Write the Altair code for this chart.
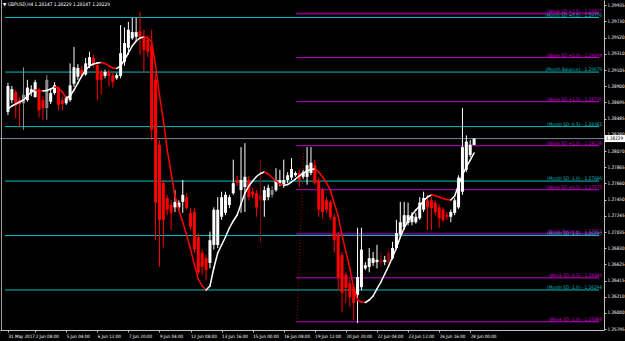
import json
import altair as alt
import pandas as pd

FONT = "Liberation Sans Narrow, DejaVu Sans Condensed, Liberation Sans, sans-serif"

title_text = "\u25BC GBPUSD,H4  1.28147 1.28229 1.28147 1.28229"

# ---- H4 candles (bar index 0..120) ----
opens = [
    1.2857, 1.2872, 1.2882, 1.2872, 1.2868, 1.2872, 1.2882, 1.2876, 1.2885, 1.2872,
    1.2862, 1.2870, 1.2881, 1.2888, 1.2872, 1.2868, 1.2872, 1.2893, 1.2902, 1.2911,
    1.2905, 1.2916, 1.2926, 1.2917, 1.2908, 1.2903, 1.2908, 1.2904, 1.2900, 1.2903,
    1.2921, 1.2939, 1.2951, 1.2953, 1.2960, 1.2954, 1.2949, 1.2942, 1.2898, 1.2815,
    1.2766, 1.2747, 1.2738, 1.2735, 1.2735, 1.2742, 1.2748, 1.2728, 1.2729, 1.2697,
    1.2677, 1.2670, 1.2664, 1.2687, 1.2687, 1.2723, 1.2728, 1.2738, 1.2753, 1.2770,
    1.2757, 1.2761, 1.2770, 1.2755, 1.2753, 1.2751, 1.2744, 1.2748, 1.2751, 1.2757,
    1.2766, 1.2764, 1.2770, 1.2773, 1.2776, 1.2779, 1.2774, 1.2774, 1.2779, 1.2789,
    1.2770, 1.2757, 1.2744, 1.2742, 1.2723, 1.2700, 1.2674, 1.2649, 1.2638, 1.2633,
    1.2623, 1.2633, 1.2657, 1.2659, 1.2664, 1.2665, 1.2668, 1.2665, 1.2677, 1.2670,
    1.2683, 1.2700, 1.2710, 1.2715, 1.2716, 1.2716, 1.2721, 1.2732, 1.2744, 1.2744,
    1.2741, 1.2735, 1.2732, 1.2725, 1.2723, 1.2728, 1.2735, 1.2755, 1.2783, 1.2802,
    1.28147,
]
highs = [
    1.2894, 1.2890, 1.2885, 1.2876, 1.2914, 1.2898, 1.2891, 1.2898, 1.2888, 1.2877,
    1.2904, 1.2885, 1.2895, 1.2890, 1.2876, 1.2877, 1.2919, 1.2940, 1.2918, 1.2916,
    1.2926, 1.2934, 1.2930, 1.2921, 1.2911, 1.2911, 1.2911, 1.2907, 1.2907, 1.2968,
    1.2965, 1.2972, 1.2977, 1.2977, 1.2985, 1.2962, 1.2955, 1.2962, 1.2907, 1.2821,
    1.2770, 1.2751, 1.2744, 1.2757, 1.2744, 1.2770, 1.2753, 1.2734, 1.2734, 1.2702,
    1.2681, 1.2674, 1.2704, 1.2735, 1.2748, 1.2755, 1.2755, 1.2751, 1.2796, 1.2775,
    1.2812, 1.2817, 1.2775, 1.2760, 1.2757, 1.2796, 1.2762, 1.2764, 1.2762, 1.2785,
    1.2783, 1.2796, 1.2780, 1.2798, 1.2781, 1.2783, 1.2783, 1.2812, 1.2812, 1.2796,
    1.2773, 1.2760, 1.2748, 1.2744, 1.2727, 1.2704, 1.2678, 1.2652, 1.2642, 1.2637,
    1.2709, 1.2709, 1.2665, 1.2683, 1.2678, 1.2687, 1.2678, 1.2673, 1.2681, 1.2691,
    1.2719, 1.2742, 1.2742, 1.2741, 1.2729, 1.2728, 1.2748, 1.2755, 1.2751, 1.2748,
    1.2744, 1.2739, 1.2735, 1.2729, 1.2732, 1.2747, 1.2776, 1.2862, 1.2827, 1.2821,
    1.28229,
]
lows = [
    1.2853, 1.2868, 1.2849, 1.2838, 1.2834, 1.2870, 1.2877, 1.2875, 1.2850, 1.2847,
    1.2847, 1.2867, 1.2879, 1.2859, 1.2859, 1.2866, 1.2870, 1.2889, 1.2898, 1.2900,
    1.2903, 1.2913, 1.2914, 1.2872, 1.2879, 1.2900, 1.2889, 1.2888, 1.2898, 1.2900,
    1.2916, 1.2930, 1.2949, 1.2949, 1.2930, 1.2908, 1.2927, 1.2821, 1.2693, 1.2659,
    1.2684, 1.2725, 1.2706, 1.2729, 1.2732, 1.2728, 1.2732, 1.2706, 1.2677, 1.2649,
    1.2649, 1.2642, 1.2657, 1.2681, 1.2683, 1.2719, 1.2725, 1.2734, 1.2751, 1.2762,
    1.2728, 1.2729, 1.2744, 1.2747, 1.2723, 1.2689, 1.2723, 1.2744, 1.2747, 1.2755,
    1.2762, 1.2760, 1.2766, 1.2770, 1.2774, 1.2761, 1.2771, 1.2764, 1.2776, 1.2764,
    1.2723, 1.2721, 1.2728, 1.2719, 1.2677, 1.2629, 1.2601, 1.2613, 1.2608, 1.2591,
    1.2587, 1.2629, 1.2655, 1.2652, 1.2660, 1.2657, 1.2659, 1.2661, 1.2661, 1.2668,
    1.2681, 1.2696, 1.2706, 1.2712, 1.2712, 1.2714, 1.2719, 1.2729, 1.2706, 1.2706,
    1.2725, 1.2709, 1.2716, 1.2719, 1.2716, 1.2725, 1.2733, 1.2751, 1.2780, 1.2799,
    1.28147,
]
closes = [
    1.2890, 1.2886, 1.2868, 1.2867, 1.2879, 1.2888, 1.2886, 1.2895, 1.2859, 1.2862,
    1.2898, 1.2881, 1.2891, 1.2866, 1.2867, 1.2875, 1.2891, 1.2914, 1.2913, 1.2904,
    1.2919, 1.2927, 1.2917, 1.2898, 1.2898, 1.2908, 1.2903, 1.2895, 1.2904, 1.2932,
    1.2945, 1.2962, 1.2959, 1.2959, 1.2953, 1.2936, 1.2934, 1.2834, 1.2741, 1.2719,
    1.2719, 1.2732, 1.2728, 1.2742, 1.2741, 1.2751, 1.2734, 1.2710, 1.2681, 1.2652,
    1.2659, 1.2655, 1.2693, 1.2732, 1.2732, 1.2748, 1.2751, 1.2748, 1.2766, 1.2766,
    1.2770, 1.2774, 1.2748, 1.2751, 1.2735, 1.2744, 1.2757, 1.2760, 1.2757, 1.2770,
    1.2770, 1.2770, 1.2776, 1.2784, 1.2779, 1.2770, 1.2780, 1.2789, 1.2792, 1.2766,
    1.2732, 1.2729, 1.2732, 1.2723, 1.2693, 1.2645, 1.2626, 1.2632, 1.2620, 1.2613,
    1.2646, 1.2681, 1.2661, 1.2670, 1.2670, 1.2668, 1.2664, 1.2668, 1.2664, 1.2683,
    1.2702, 1.2716, 1.2725, 1.2725, 1.2724, 1.2723, 1.2741, 1.2747, 1.2735, 1.2734,
    1.2729, 1.2721, 1.2719, 1.2723, 1.2729, 1.2744, 1.2773, 1.2812, 1.2819, 1.2815,
    1.28229,
]
dim_bars = [4, 10, 65, 68, 96, 98]

# ---- smoothed moving average (white rising / red falling) ----
hma = [
    1.28607, 1.28645, 1.28671, 1.28696, 1.28722, 1.28773, 1.28824, 1.28850, 1.28843, 1.28837,
    1.28843, 1.28863, 1.28888, 1.28875, 1.28824, 1.28748, 1.28773, 1.28850, 1.28939, 1.29029,
    1.29105, 1.29157, 1.29182, 1.29195, 1.29201, 1.29188, 1.29157, 1.29131, 1.29125, 1.29157,
    1.29233, 1.29323, 1.29412, 1.29476, 1.29514, 1.29527, 1.29514, 1.29463, 1.29169, 1.28786,
    1.28466, 1.28083, 1.27789, 1.27495, 1.27316, 1.27163, 1.26997, 1.26818, 1.26613, 1.26434,
    1.26345, 1.26294, 1.26345, 1.26575, 1.26767, 1.26869, 1.26971, 1.27086, 1.27176, 1.27252,
    1.27393, 1.27533, 1.27623, 1.27687, 1.27744, 1.27783, 1.27802, 1.27776, 1.27732, 1.27687,
    1.27648, 1.27629, 1.27642, 1.27674, 1.27712, 1.27751, 1.27783, 1.27815, 1.27834, 1.27840,
    1.27802, 1.27738, 1.27661, 1.27572, 1.27406, 1.27240, 1.26997, 1.26779, 1.26575, 1.26319,
    1.26166, 1.26140, 1.26134, 1.26166, 1.26217, 1.26307, 1.26396, 1.26498, 1.26601, 1.26716,
    1.26831, 1.26971, 1.27086, 1.27176, 1.27252, 1.27316, 1.27367, 1.27431, 1.27482, 1.27508,
    1.27502, 1.27482, 1.27463, 1.27450, 1.27444, 1.27495, 1.27636, 1.27764, 1.27866, 1.27955,
    1.28045,
]

# ---- pivot / SD levels ----
month_names = ["Month SD +0.5", "Month Balance", "Month SD -0.5", "Month SD -1.0",
               "Month SD -1.5", "Month SD -2.0"]
month_levels = [1.29776, 1.29079, 1.28382, 1.27686, 1.26990, 1.26294]
week_names = ["Week SD +2.5", "Week SD +2.0", "Week SD +1.5", "Week SD +1.0",
              "Week SD +0.5", "Week Balance", "Week SD -0.5", "Week SD -1.0"]
week_levels = [1.29827, 1.29264, 1.28700, 1.28138, 1.27575, 1.27012, 1.26449, 1.25888]
week_dark = ["Week SD +2.5", "Week Balance"]
week_start = 74.2
bid = 1.28229
sep_x = [76.2, 74.4]
sep_p = [1.28121, 1.25885]

price_ticks = [1.29935, 1.29730, 1.29520, 1.29310, 1.29105, 1.28900, 1.28695,
               1.28485, 1.28280, 1.28070, 1.27865, 1.27660, 1.27450, 1.27245,
               1.27035, 1.26830, 1.26625, 1.26415, 1.26210, 1.26000, 1.25795]
time_ticks = [0, 7, 15, 23, 31, 39, 47, 55, 63, 71, 79, 87, 95, 103, 111, 119]
time_labels = ["31 May 2017", "2 Jun 08:00", "5 Jun 04:00", "6 Jun 12:00",
               "7 Jun 20:00", "9 Jun 04:00", "12 Jun 08:00", "13 Jun 16:00",
               "15 Jun 00:00", "16 Jun 08:00", "19 Jun 12:00", "20 Jun 20:00",
               "22 Jun 04:00", "23 Jun 12:00", "26 Jun 16:00", "28 Jun 00:00"]

# ---- styling ----
X_MIN, X_MAX = -0.76, 152.15
Y_MIN, Y_MAX = 1.257826, 1.30000
MONTH_COL = "#00bfbf"
WEEK_COL = "#c800c8"
WEEK_DARK = "#7a007a"
BID_COL = "#778899"

n = len(closes)
idx = list(range(n))
colors = []
for i in idx:
    bull = closes[i] >= opens[i]
    if i in dim_bars:
        colors.append("#8c8c8c" if bull else "#8b0000")
    else:
        colors.append("#ffffff" if bull else "#ff0000")
candles = pd.DataFrame({"i": idx, "o": opens, "h": highs, "l": lows, "c": closes, "col": colors})

seg = pd.DataFrame({"i0": idx[:-1], "i1": idx[1:], "p0": hma[:-1], "p1": hma[1:]})
seg["col"] = ["#ffffff" if b >= a else "#ff0000" for a, b in zip(hma[:-1], hma[1:])]

rows = []
for nm, lv in zip(month_names, month_levels):
    rows.append(dict(name=nm, level=lv, x0=X_MIN, x1=X_MAX, col=MONTH_COL, tcol=MONTH_COL, w=1))
for nm, lv in zip(week_names, week_levels):
    dark = nm in week_dark
    rows.append(dict(name=nm, level=lv, x0=week_start, x1=X_MAX,
                     col=WEEK_DARK if dark else WEEK_COL, tcol=WEEK_COL, w=2 if dark else 1))
levels = pd.DataFrame(rows)
levels["label"] = ["(" + nm + ") - " + f"{lv:.5f}" for nm, lv in zip(levels["name"], levels["level"])]

bid_df = pd.DataFrame({"p": [bid], "t": [f"{bid:.5f}"]})
sep_df = pd.DataFrame({"x0": [sep_x[0]], "x1": [sep_x[1]], "p0": [sep_p[0]], "p1": [sep_p[1]]})
title_df = pd.DataFrame({"t": [title_text]})

xs = alt.Scale(domain=[X_MIN, X_MAX], nice=False, zero=False)
ys = alt.Scale(domain=[Y_MIN, Y_MAX], nice=False, zero=False)

label_expr = f"{json.dumps(time_labels)}[indexof({json.dumps(time_ticks)}, datum.value)]"
x_axis = alt.Axis(orient="bottom", values=time_ticks, labelExpr=label_expr, labelAlign="left",
                  labelFont=FONT, labelFontSize=4.5, labelColor="#ffffff", tickColor="#c0c0c0",
                  tickSize=2, labelPadding=1, domainColor="#c0c0c0", grid=False, title=None,
                  labelOverlap=False, labelFlush=False, labelBound=False)
y_axis = alt.Axis(orient="right", values=price_ticks, format=".5f", labelFont=FONT,
                  labelFontSize=4.6, labelColor="#ffffff", tickColor="#c0c0c0", tickSize=2,
                  labelPadding=1, domainColor="#c0c0c0", grid=False, title=None,
                  labelOverlap=False, labelFlush=False, labelBound=False, labelBaseline="middle")


def X(field):
    return alt.X(field, type="quantitative", scale=xs, axis=x_axis)


def Y(field):
    return alt.Y(field, type="quantitative", scale=ys, axis=y_axis)


lines = alt.Chart(levels).mark_rule().encode(
    x=X("x0"), x2="x1", y=Y("level"),
    color=alt.Color("col:N", scale=None),
    strokeWidth=alt.StrokeWidth("w:Q", scale=None),
)
bid_line = alt.Chart(bid_df).mark_rule(color=BID_COL, strokeWidth=1).encode(
    x=alt.value(0), x2=alt.value(604), y=Y("p"))
sep = alt.Chart(sep_df).mark_rule(color="#a00000", strokeDash=[1, 2], strokeWidth=1).encode(
    x=X("x0"), x2="x1", y=Y("p0"), y2="p1")
wicks = alt.Chart(candles).mark_rule(strokeWidth=1).encode(
    x=X("i"), y=Y("l"), y2="h", color=alt.Color("col:N", scale=None))
bodies = alt.Chart(candles).mark_bar(size=3).encode(
    x=X("i"), y=Y("o"), y2="c", color=alt.Color("col:N", scale=None))
ma = alt.Chart(seg).mark_rule(strokeWidth=1.5, strokeCap="round").encode(
    x=X("i0"), x2="i1", y=Y("p0"), y2="p1", color=alt.Color("col:N", scale=None))
labels = alt.Chart(levels).mark_text(align="right", baseline="bottom", font=FONT,
                                     fontSize=4.7).encode(
    x=alt.value(602), y=Y("level"), text="label:N", color=alt.Color("tcol:N", scale=None))
bid_box = alt.Chart(bid_df).mark_rule(strokeWidth=7, strokeCap="butt", color="#ffffff").encode(
    x=alt.value(605), x2=alt.value(625), y=Y("p"))
bid_text = alt.Chart(bid_df).mark_text(align="left", baseline="middle", font=FONT, fontSize=4.6,
                                       color="#000000").encode(
    x=alt.value(606), y=Y("p"), text="t:N")
title = alt.Chart(title_df).mark_text(align="left", baseline="middle", font=FONT, fontSize=4.8,
                                      color="#ffffff").encode(
    x=alt.value(3), y=alt.value(5), text="t:N")
border = alt.Chart(title_df).mark_rule(color="#a0a0a0", strokeWidth=1).encode(
    x=alt.value(1.5), y=alt.value(0), y2=alt.value(330))

chart = alt.layer(
    lines, bid_line, sep, wicks, bodies, ma, labels, bid_box, bid_text, title, border
).properties(
    width=604, height=330, autosize="none",
    padding={"left": 0, "top": 0, "right": 21, "bottom": 11},
    background="#000000",
).configure_view(stroke=None)

chart.save("out.html", embed_options={"renderer": "svg", "actions": False})
